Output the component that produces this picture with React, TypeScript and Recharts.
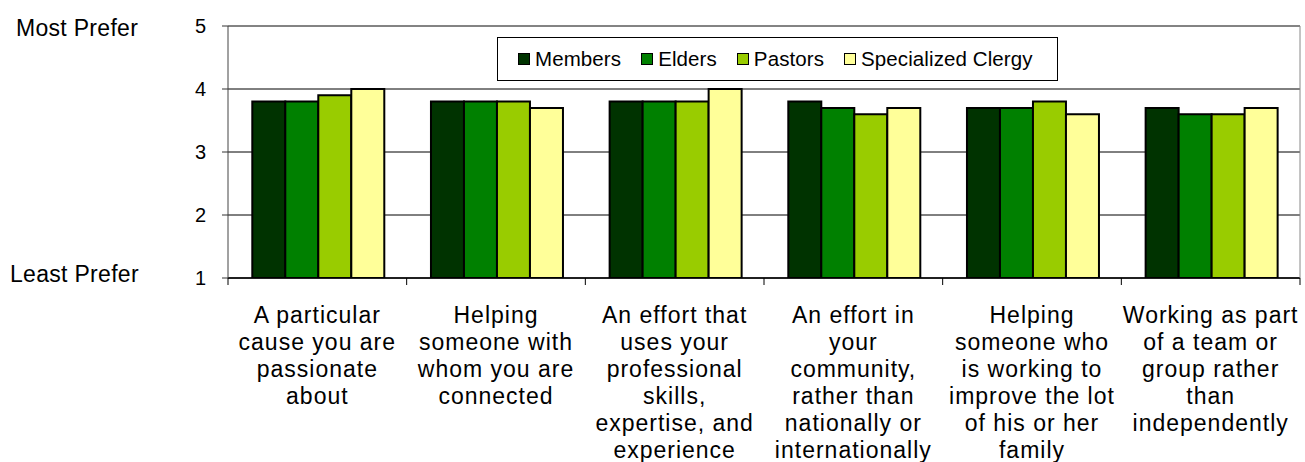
import React from 'react';
import {
  BarChart,
  Bar,
  XAxis,
  YAxis,
  CartesianGrid,
  ReferenceLine,
} from 'recharts';

const categories = [
  'A particular cause you are passionate about',
  'Helping someone with whom you are connected',
  'An effort that uses your professional skills, expertise, and experience',
  'An effort in your community, rather than nationally or internationally',
  'Helping someone who is working to improve the lot of his or her family',
  'Working as part of a team or group rather than independently',
];

// tick labels, broken the way the original wraps them
const categoryLines = [
  ['A particular', 'cause you are', 'passionate', 'about'],
  ['Helping', 'someone with', 'whom you are', 'connected'],
  ['An effort that', 'uses your', 'professional', 'skills,', 'expertise, and', 'experience'],
  ['An effort in', 'your', 'community,', 'rather than', 'nationally or', 'internationally'],
  ['Helping', 'someone who', 'is working to', 'improve the lot', 'of his or her', 'family'],
  ['Working as part', 'of a team or', 'group rather', 'than', 'independently'],
];

const members = [3.8, 3.8, 3.8, 3.8, 3.7, 3.7];
const elders = [3.8, 3.8, 3.8, 3.7, 3.7, 3.6];
const pastors = [3.9, 3.8, 3.8, 3.6, 3.8, 3.6];
const clergy = [4.0, 3.7, 4.0, 3.7, 3.6, 3.7];

const yTicks = [1, 2, 3, 4, 5];
const yEndLabels: Record<number, string> = { 5: 'Most Prefer', 1: 'Least Prefer' };

const series = [
  { key: 'members', name: 'Members', color: '#003300' },
  { key: 'elders', name: 'Elders', color: '#008000' },
  { key: 'pastors', name: 'Pastors', color: '#99cc00' },
  { key: 'clergy', name: 'Specialized Clergy', color: '#ffff99' },
];

const data = categories.map((name, i) => ({
  name,
  members: members[i],
  elders: elders[i],
  pastors: pastors[i],
  clergy: clergy[i],
}));

const W = 1305;
const H = 462;
const LEFT = 228;
const RIGHT = 5;
const BAND = (W - LEFT - RIGHT) / categories.length;
const FONT = 'Arial, "Liberation Sans", sans-serif';

function XTick(props: any) {
  const { x, y, index } = props;
  const lines = categoryLines[index] ?? [];
  const last = index === categories.length - 1;
  return (
    <g>
      <line x1={x - BAND / 2} x2={x - BAND / 2} y1={y} y2={y + 7} stroke="#000" />
      {last && <line x1={x + BAND / 2} x2={x + BAND / 2} y1={y} y2={y + 7} stroke="#000" />}
      <text
        x={x}
        y={y + 45}
        textAnchor="middle"
        fontSize={23}
        fontFamily={FONT}
        letterSpacing={1}
        fill="#000"
      >
        {lines.map((l, i) => (
          <tspan key={i} x={x} dy={i === 0 ? 0 : 27}>
            {l}
          </tspan>
        ))}
      </text>
    </g>
  );
}

function YTick(props: any) {
  const { x, y, payload } = props;
  const end = yEndLabels[payload.value];
  return (
    <g>
      <text x={x} y={y} dy="0.355em" textAnchor="end" fontSize={20} fontFamily={FONT} fill="#000">
        {payload.value}
      </text>
      {end && (
        <text
          x={payload.value === 5 ? 16 : 10}
          y={y + (payload.value === 5 ? 10 : 4)}
          fontSize={23}
          fontFamily={FONT}
          letterSpacing={0.3}
          fill="#000"
        >
          {end}
        </text>
      )}
    </g>
  );
}

export default function App() {
  return (
    <div style={{ position: 'absolute', left: 0, top: 0, width: W, height: H, background: '#fff' }}>
      <BarChart
        width={W}
        height={H}
        data={data}
        margin={{ top: 26, right: 0, bottom: 0, left: 0 }}
        barCategoryGap="13.6%"
        barGap={0}
      >
        <CartesianGrid vertical={false} stroke="#000" strokeDasharray="" />
        <XAxis
          dataKey="name"
          height={184}
          tickLine={false}
          tickSize={0}
          tickMargin={0}
          axisLine={{ stroke: '#000', strokeWidth: 1.5 }}
          tick={<XTick />}
          interval={0}
        />
        <YAxis
          domain={[1, 5]}
          ticks={yTicks}
          width={LEFT}
          tickSize={6}
          tickMargin={16}
          tickLine={{ stroke: '#333' }}
          axisLine={{ stroke: '#444' }}
          tick={<YTick />}
          allowDataOverflow
        />
        <YAxis
          yAxisId="r"
          orientation="right"
          domain={[1, 5]}
          width={RIGHT}
          tick={false}
          tickLine={false}
          axisLine={{ stroke: '#888' }}
        />
        <ReferenceLine y={5} stroke="#888" />
        {series.map((s) => (
          <Bar
            key={s.key}
            dataKey={s.key}
            name={s.name}
            fill={s.color}
            stroke="#000"
            strokeWidth={2}
            isAnimationActive={false}
          />
        ))}
      </BarChart>
      <div
        style={{
          position: 'absolute',
          left: 497,
          top: 37,
          width: 561,
          height: 44,
          boxSizing: 'border-box',
          border: '1px solid #000',
          background: '#fff',
          display: 'flex',
          alignItems: 'center',
          paddingLeft: 20,
          fontFamily: FONT,
          fontSize: 20.5,
          letterSpacing: 0.1,
          whiteSpace: 'nowrap',
          overflow: 'visible',
        }}
      >
        {series.map((s, i) => (
          <div
            key={s.key}
            style={{
              display: 'flex',
              alignItems: 'center',
              flexShrink: 0,
              marginRight: i === series.length - 1 ? 0 : 20,
            }}
          >
            <span
              style={{
                width: 12,
                height: 12,
                boxSizing: 'border-box',
                background: s.color,
                border: '1.5px solid #000',
                marginRight: 5,
                display: 'inline-block',
              }}
            />
            <span>{s.name}</span>
          </div>
        ))}
      </div>
    </div>
  );
}
